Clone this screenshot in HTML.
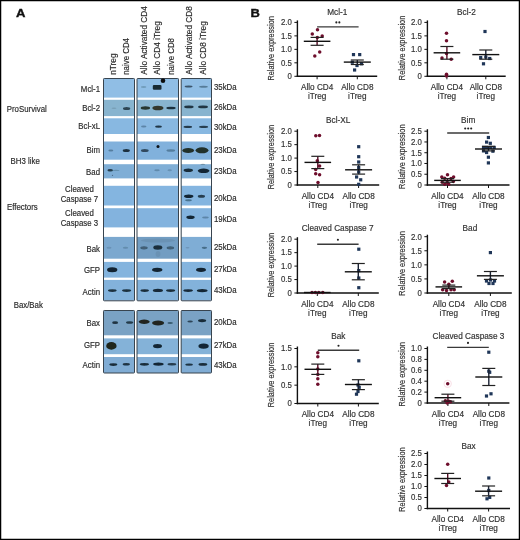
<!DOCTYPE html><html><head><meta charset="utf-8"><style>html,body{margin:0;padding:0;background:#fff;}body{width:520px;height:540px;overflow:hidden;position:relative;}svg{display:block;font-family:"Liberation Sans", sans-serif;will-change:transform;}</style></head><body>
<svg width="520" height="540" viewBox="0 0 520 540">
<rect x="0" y="0" width="520" height="540" fill="#fff"/>
<text transform="translate(15.9,16.8) scale(1.13,1)" font-size="11.6" text-anchor="start" fill="#111" font-weight="bold" stroke="#111" stroke-width="0.35">A</text>
<text transform="translate(250.6,16.6) scale(1.1,1)" font-size="11.8" text-anchor="start" fill="#111" font-weight="bold" stroke="#111" stroke-width="0.35">B</text>
<text transform="translate(115.7,74.8) rotate(-90) scale(1,1)" font-size="8.3" text-anchor="start" fill="#2c2c2c" stroke="#2c2c2c" stroke-width="0.18">nTreg</text>
<text transform="translate(129,74.8) rotate(-90) scale(0.95,1)" font-size="8.3" text-anchor="start" fill="#2c2c2c" stroke="#2c2c2c" stroke-width="0.18">naive CD4</text>
<text transform="translate(146.6,74.8) rotate(-90) scale(1,1)" font-size="8.3" text-anchor="start" fill="#2c2c2c" stroke="#2c2c2c" stroke-width="0.18">Allo Activated CD4</text>
<text transform="translate(160.4,74.8) rotate(-90) scale(1,1)" font-size="8.3" text-anchor="start" fill="#2c2c2c" stroke="#2c2c2c" stroke-width="0.18">Allo CD4 iTreg</text>
<text transform="translate(173.6,74.8) rotate(-90) scale(0.95,1)" font-size="8.3" text-anchor="start" fill="#2c2c2c" stroke="#2c2c2c" stroke-width="0.18">naive CD8</text>
<text transform="translate(192,74.8) rotate(-90) scale(1,1)" font-size="8.3" text-anchor="start" fill="#2c2c2c" stroke="#2c2c2c" stroke-width="0.18">Allo Activated CD8</text>
<text transform="translate(205.9,74.8) rotate(-90) scale(1,1)" font-size="8.3" text-anchor="start" fill="#2c2c2c" stroke="#2c2c2c" stroke-width="0.18">Allo CD8 iTreg</text>
<rect x="103.5" y="78.5" width="31.0" height="19.099999999999994" fill="#90bee5"/>
<rect x="103.5" y="99.8" width="31.0" height="16.299999999999997" fill="#88b4cf"/>
<rect x="103.5" y="118.3" width="31.0" height="15.700000000000003" fill="#88b8e1"/>
<rect x="103.5" y="141.5" width="31.0" height="18.19999999999999" fill="#81b1dc"/>
<rect x="103.5" y="164.2" width="31.0" height="14.200000000000017" fill="#7faed6"/>
<rect x="103.5" y="185.8" width="31.0" height="19.69999999999999" fill="#84b5e0"/>
<rect x="103.5" y="208.2" width="31.0" height="19.200000000000017" fill="#83b3de"/>
<rect x="103.5" y="236.9" width="31.0" height="21.799999999999983" fill="#7ba8cf"/>
<rect x="103.5" y="261.9" width="31.0" height="15.700000000000045" fill="#84b4de"/>
<rect x="103.5" y="279.9" width="31.0" height="20.600000000000023" fill="#83b2db"/>
<rect x="103.5" y="78.5" width="31.0" height="222.3" rx="0.8" fill="none" stroke="#38444f" stroke-width="1.0"/>
<rect x="137" y="78.5" width="41.5" height="19.099999999999994" fill="#90bee5"/>
<rect x="137" y="99.8" width="41.5" height="16.299999999999997" fill="#88b4cf"/>
<rect x="137" y="118.3" width="41.5" height="15.700000000000003" fill="#88b8e1"/>
<rect x="137" y="141.5" width="41.5" height="18.19999999999999" fill="#81b1dc"/>
<rect x="137" y="164.2" width="41.5" height="14.200000000000017" fill="#7faed6"/>
<rect x="137" y="185.8" width="41.5" height="19.69999999999999" fill="#84b5e0"/>
<rect x="137" y="208.2" width="41.5" height="19.200000000000017" fill="#83b3de"/>
<rect x="137" y="236.9" width="41.5" height="21.799999999999983" fill="#729dc2"/>
<rect x="137" y="261.9" width="41.5" height="15.700000000000045" fill="#84b4de"/>
<rect x="137" y="279.9" width="41.5" height="20.600000000000023" fill="#83b2db"/>
<rect x="137" y="78.5" width="41.5" height="222.3" rx="0.8" fill="none" stroke="#38444f" stroke-width="1.0"/>
<rect x="181.2" y="78.5" width="30.30000000000001" height="19.099999999999994" fill="#90bee5"/>
<rect x="181.2" y="99.8" width="30.30000000000001" height="16.299999999999997" fill="#88b4cf"/>
<rect x="181.2" y="118.3" width="30.30000000000001" height="15.700000000000003" fill="#88b8e1"/>
<rect x="181.2" y="141.5" width="30.30000000000001" height="18.19999999999999" fill="#81b1dc"/>
<rect x="181.2" y="164.2" width="30.30000000000001" height="14.200000000000017" fill="#7faed6"/>
<rect x="181.2" y="185.8" width="30.30000000000001" height="19.69999999999999" fill="#84b5e0"/>
<rect x="181.2" y="208.2" width="30.30000000000001" height="19.200000000000017" fill="#83b3de"/>
<rect x="181.2" y="236.9" width="30.30000000000001" height="21.799999999999983" fill="#7fadd5"/>
<rect x="181.2" y="261.9" width="30.30000000000001" height="15.700000000000045" fill="#84b4de"/>
<rect x="181.2" y="279.9" width="30.30000000000001" height="20.600000000000023" fill="#83b2db"/>
<rect x="181.2" y="78.5" width="30.30000000000001" height="222.3" rx="0.8" fill="none" stroke="#38444f" stroke-width="1.0"/>
<rect x="103.5" y="310.5" width="31.0" height="24.80000000000001" fill="#7aa2c4"/>
<rect x="103.5" y="338.4" width="31.0" height="15.800000000000011" fill="#84b2d8"/>
<rect x="103.5" y="357" width="31.0" height="16" fill="#80acd4"/>
<rect x="103.5" y="310.5" width="31.0" height="62.5" rx="0.8" fill="none" stroke="#38444f" stroke-width="1.0"/>
<rect x="137" y="310.5" width="41.5" height="24.80000000000001" fill="#7aa2c4"/>
<rect x="137" y="338.4" width="41.5" height="15.800000000000011" fill="#84b2d8"/>
<rect x="137" y="357" width="41.5" height="16" fill="#80acd4"/>
<rect x="137" y="310.5" width="41.5" height="62.5" rx="0.8" fill="none" stroke="#38444f" stroke-width="1.0"/>
<rect x="181.2" y="310.5" width="30.30000000000001" height="24.80000000000001" fill="#7aa2c4"/>
<rect x="181.2" y="338.4" width="30.30000000000001" height="15.800000000000011" fill="#84b2d8"/>
<rect x="181.2" y="357" width="30.30000000000001" height="16" fill="#80acd4"/>
<rect x="181.2" y="310.5" width="30.30000000000001" height="62.5" rx="0.8" fill="none" stroke="#38444f" stroke-width="1.0"/>
<defs><filter id="bl" x="-20%" y="-50%" width="140%" height="200%"><feGaussianBlur stdDeviation="0.65"/></filter></defs>
<g filter="url(#bl)">
<ellipse cx="143.7" cy="87.1" rx="2.75" ry="1.0" fill="#0d1f2a" fill-opacity="0.22"/>
<rect x="152.8" y="84.9" width="8.7" height="4.8" rx="1.2" fill="#101c24" fill-opacity="0.92"/>
<circle cx="163" cy="80.7" r="2.3" fill="#0c0f10"/>
<ellipse cx="188.6" cy="86.6" rx="3.9" ry="1.0" fill="#0d1f2a" fill-opacity="0.65"/>
<ellipse cx="203.5" cy="86.7" rx="4.35" ry="1.0" fill="#0d1f2a" fill-opacity="0.4"/>
<ellipse cx="114" cy="108.2" rx="2.5" ry="0.8" fill="#0d1f2a" fill-opacity="0.12"/>
<ellipse cx="126.6" cy="108.6" rx="3.6" ry="1.5" fill="#0d1f2a" fill-opacity="0.75"/>
<ellipse cx="145.4" cy="108" rx="4.7" ry="1.7" fill="#1f2a22" fill-opacity="0.92"/>
<ellipse cx="157.9" cy="108" rx="5.55" ry="2.3" fill="#2a2c1c" fill-opacity="0.92"/>
<ellipse cx="171" cy="108" rx="4.75" ry="1.3" fill="#0d1f2a" fill-opacity="0.88"/>
<ellipse cx="188.9" cy="106.9" rx="4.75" ry="1.35" fill="#0d1f2a" fill-opacity="0.85"/>
<ellipse cx="203" cy="106.9" rx="5.0" ry="1.35" fill="#0d1f2a" fill-opacity="0.85"/>
<ellipse cx="143.7" cy="126.6" rx="2.75" ry="1.0" fill="#0d1f2a" fill-opacity="0.32"/>
<ellipse cx="158.5" cy="126.6" rx="3.4" ry="1.2" fill="#0d1f2a" fill-opacity="0.85"/>
<ellipse cx="187.8" cy="126.9" rx="4.25" ry="1.1" fill="#0d1f2a" fill-opacity="0.82"/>
<ellipse cx="203.6" cy="126.9" rx="4.5" ry="1.1" fill="#0d1f2a" fill-opacity="0.8"/>
<ellipse cx="110.8" cy="150.4" rx="2.5" ry="1.0" fill="#0d1f2a" fill-opacity="0.35"/>
<ellipse cx="126.3" cy="150.4" rx="3.55" ry="1.5" fill="#0d1f2a" fill-opacity="0.88"/>
<ellipse cx="144.8" cy="150.4" rx="3.85" ry="1.5" fill="#0d1f2a" fill-opacity="0.7"/>
<circle cx="158" cy="146.6" r="1.5" fill="#0b1418"/>
<ellipse cx="170.8" cy="150.5" rx="4.4" ry="1.25" fill="#0d1f2a" fill-opacity="0.35"/>
<ellipse cx="188.2" cy="150.4" rx="5.85" ry="2.5" fill="#1f2a22" fill-opacity="0.96"/>
<ellipse cx="202" cy="150.3" rx="6.4" ry="3.0" fill="#1f2a22" fill-opacity="0.96"/>
<ellipse cx="110.2" cy="170.2" rx="2.75" ry="1.3" fill="#0d1f2a" fill-opacity="0.8"/>
<ellipse cx="116" cy="170.4" rx="3.5" ry="0.6" fill="#0d1f2a" fill-opacity="0.2"/>
<circle cx="112.5" cy="175.4" r="0.6" fill="#203040" fill-opacity="0.5"/>
<ellipse cx="157" cy="170.3" rx="2.75" ry="1.0" fill="#0d1f2a" fill-opacity="0.25"/>
<ellipse cx="169.7" cy="170.3" rx="2.2" ry="1.0" fill="#0d1f2a" fill-opacity="0.2"/>
<ellipse cx="188.3" cy="170.3" rx="4.7" ry="1.75" fill="#0d1f2a" fill-opacity="0.9"/>
<ellipse cx="203.6" cy="170.8" rx="5.85" ry="2.25" fill="#0d1f2a" fill-opacity="0.95"/>
<ellipse cx="202.9" cy="164.3" rx="2.5" ry="0.6" fill="#0d1f2a" fill-opacity="0.3"/>
<ellipse cx="188.7" cy="196.3" rx="4.7" ry="1.75" fill="#0d1f2a" fill-opacity="0.95"/>
<ellipse cx="188.5" cy="200.3" rx="3.3" ry="1.0" fill="#0d1f2a" fill-opacity="0.45"/>
<ellipse cx="201.4" cy="196.3" rx="3.6" ry="1.5" fill="#0d1f2a" fill-opacity="0.8"/>
<ellipse cx="190.5" cy="217.3" rx="4.2" ry="1.75" fill="#0d1f2a" fill-opacity="0.95"/>
<ellipse cx="205.5" cy="217.5" rx="3.3" ry="0.9" fill="#0d1f2a" fill-opacity="0.3"/>
<ellipse cx="109" cy="247.8" rx="2.5" ry="1.0" fill="#0d1f2a" fill-opacity="0.15"/>
<ellipse cx="125.5" cy="247.8" rx="2.75" ry="1.0" fill="#0d1f2a" fill-opacity="0.2"/>
<ellipse cx="144" cy="247.8" rx="3.75" ry="1.6" fill="#0d1f2a" fill-opacity="0.5"/>
<ellipse cx="157.8" cy="247.5" rx="4.5" ry="2.2" fill="#0d1f2a" fill-opacity="0.88"/>
<ellipse cx="158" cy="254" rx="2.5" ry="3.0" fill="#0d1f2a" fill-opacity="0.07"/>
<ellipse cx="158" cy="240.5" rx="17.0" ry="2.0" fill="#0d1f2a" fill-opacity="0.07"/>
<ellipse cx="170.4" cy="247.8" rx="3.75" ry="1.6" fill="#0d1f2a" fill-opacity="0.5"/>
<ellipse cx="187.5" cy="247.8" rx="2.0" ry="0.8" fill="#0d1f2a" fill-opacity="0.15"/>
<ellipse cx="204.4" cy="247.8" rx="2.7" ry="1.1" fill="#0d1f2a" fill-opacity="0.45"/>
<ellipse cx="112.2" cy="269.8" rx="5.2" ry="2.5" fill="#0d1f2a" fill-opacity="0.96"/>
<ellipse cx="157.2" cy="269.8" rx="5.2" ry="2.1" fill="#0d1f2a" fill-opacity="0.96"/>
<ellipse cx="201" cy="269.8" rx="5.0" ry="2.1" fill="#0d1f2a" fill-opacity="0.96"/>
<ellipse cx="112.3" cy="290.6" rx="4.35" ry="1.3" fill="#0d1f2a" fill-opacity="0.88"/>
<ellipse cx="126.6" cy="290.6" rx="4.6" ry="1.4" fill="#0d1f2a" fill-opacity="0.88"/>
<ellipse cx="144.7" cy="290.6" rx="4.25" ry="1.4" fill="#0d1f2a" fill-opacity="0.9"/>
<ellipse cx="157.9" cy="290.4" rx="5.1" ry="1.6" fill="#0d1f2a" fill-opacity="0.92"/>
<ellipse cx="170.6" cy="290.6" rx="4.6" ry="1.4" fill="#0d1f2a" fill-opacity="0.9"/>
<ellipse cx="188.1" cy="290.6" rx="4.85" ry="1.4" fill="#0d1f2a" fill-opacity="0.92"/>
<ellipse cx="202.2" cy="290.6" rx="5.4" ry="1.6" fill="#0d1f2a" fill-opacity="0.95"/>
<ellipse cx="115.1" cy="322.7" rx="3.0" ry="1.4" fill="#0d1f2a" fill-opacity="0.85"/>
<ellipse cx="129.6" cy="322.5" rx="3.6" ry="1.3" fill="#0d1f2a" fill-opacity="0.8"/>
<ellipse cx="144.2" cy="321.8" rx="5.5" ry="2.2" fill="#1a2018" fill-opacity="0.95"/>
<ellipse cx="158.1" cy="323.1" rx="6.0" ry="2.5" fill="#1a2018" fill-opacity="0.95"/>
<ellipse cx="170.2" cy="323" rx="2.75" ry="1.0" fill="#0d1f2a" fill-opacity="0.55"/>
<ellipse cx="190.1" cy="321.5" rx="2.75" ry="1.0" fill="#0d1f2a" fill-opacity="0.7"/>
<ellipse cx="202.1" cy="320.6" rx="4.1" ry="1.7" fill="#0d1f2a" fill-opacity="0.9"/>
<ellipse cx="111.4" cy="345.9" rx="5.2" ry="3.8" fill="#1a2018" fill-opacity="0.97"/>
<ellipse cx="157.5" cy="346.1" rx="4.5" ry="2.2" fill="#0d1f2a" fill-opacity="0.95"/>
<ellipse cx="203.6" cy="346.1" rx="5.15" ry="2.7" fill="#0d1f2a" fill-opacity="0.95"/>
<ellipse cx="113.3" cy="364.6" rx="4.0" ry="1.4" fill="#0d1f2a" fill-opacity="0.9"/>
<ellipse cx="126.3" cy="364.2" rx="3.65" ry="1.3" fill="#0d1f2a" fill-opacity="0.85"/>
<ellipse cx="144.4" cy="364.3" rx="4.65" ry="1.4" fill="#0d1f2a" fill-opacity="0.9"/>
<ellipse cx="158.4" cy="364.1" rx="5.3" ry="1.7" fill="#0d1f2a" fill-opacity="0.95"/>
<ellipse cx="171.9" cy="364.3" rx="4.4" ry="1.2" fill="#0d1f2a" fill-opacity="0.8"/>
<ellipse cx="189.1" cy="364.6" rx="3.85" ry="1.2" fill="#0d1f2a" fill-opacity="0.85"/>
<ellipse cx="202.9" cy="364.4" rx="4.4" ry="1.4" fill="#0d1f2a" fill-opacity="0.9"/>
</g>
<text transform="translate(100,91.5) scale(0.91,1)" font-size="8.6" text-anchor="end" fill="#2c2c2c" font-weight="normal" stroke="#2c2c2c" stroke-width="0.18" >Mcl-1</text>
<text transform="translate(100,111.2) scale(0.91,1)" font-size="8.6" text-anchor="end" fill="#2c2c2c" font-weight="normal" stroke="#2c2c2c" stroke-width="0.18" >Bcl-2</text>
<text transform="translate(100,129.2) scale(0.91,1)" font-size="8.6" text-anchor="end" fill="#2c2c2c" font-weight="normal" stroke="#2c2c2c" stroke-width="0.18" >Bcl-xL</text>
<text transform="translate(100,153.2) scale(0.91,1)" font-size="8.6" text-anchor="end" fill="#2c2c2c" font-weight="normal" stroke="#2c2c2c" stroke-width="0.18" >Bim</text>
<text transform="translate(100,175.2) scale(0.91,1)" font-size="8.6" text-anchor="end" fill="#2c2c2c" font-weight="normal" stroke="#2c2c2c" stroke-width="0.18" >Bad</text>
<text transform="translate(100,251.5) scale(0.91,1)" font-size="8.6" text-anchor="end" fill="#2c2c2c" font-weight="normal" stroke="#2c2c2c" stroke-width="0.18" >Bak</text>
<text transform="translate(100,273) scale(0.91,1)" font-size="8.6" text-anchor="end" fill="#2c2c2c" font-weight="normal" stroke="#2c2c2c" stroke-width="0.18" >GFP</text>
<text transform="translate(100,294.8) scale(0.91,1)" font-size="8.6" text-anchor="end" fill="#2c2c2c" font-weight="normal" stroke="#2c2c2c" stroke-width="0.18" >Actin</text>
<text transform="translate(100,325.9) scale(0.91,1)" font-size="8.6" text-anchor="end" fill="#2c2c2c" font-weight="normal" stroke="#2c2c2c" stroke-width="0.18" >Bax</text>
<text transform="translate(100,347.7) scale(0.91,1)" font-size="8.6" text-anchor="end" fill="#2c2c2c" font-weight="normal" stroke="#2c2c2c" stroke-width="0.18" >GFP</text>
<text transform="translate(100,368.4) scale(0.91,1)" font-size="8.6" text-anchor="end" fill="#2c2c2c" font-weight="normal" stroke="#2c2c2c" stroke-width="0.18" >Actin</text>
<text transform="translate(79.4,192.3) scale(0.91,1)" font-size="8.6" text-anchor="middle" fill="#2c2c2c" font-weight="normal" stroke="#2c2c2c" stroke-width="0.18" >Cleaved</text>
<text transform="translate(79.4,201.8) scale(0.91,1)" font-size="8.6" text-anchor="middle" fill="#2c2c2c" font-weight="normal" stroke="#2c2c2c" stroke-width="0.18" >Caspase 7</text>
<text transform="translate(79.4,216) scale(0.91,1)" font-size="8.6" text-anchor="middle" fill="#2c2c2c" font-weight="normal" stroke="#2c2c2c" stroke-width="0.18" >Cleaved</text>
<text transform="translate(79.4,225.6) scale(0.91,1)" font-size="8.6" text-anchor="middle" fill="#2c2c2c" font-weight="normal" stroke="#2c2c2c" stroke-width="0.18" >Caspase 3</text>
<text transform="translate(6.8,112.2) scale(0.91,1)" font-size="8.6" text-anchor="start" fill="#2c2c2c" font-weight="normal" stroke="#2c2c2c" stroke-width="0.18" >ProSurvival</text>
<text transform="translate(10.6,163.6) scale(0.91,1)" font-size="8.6" text-anchor="start" fill="#2c2c2c" font-weight="normal" stroke="#2c2c2c" stroke-width="0.18" >BH3 like</text>
<text transform="translate(7,210) scale(0.91,1)" font-size="8.6" text-anchor="start" fill="#2c2c2c" font-weight="normal" stroke="#2c2c2c" stroke-width="0.18" >Effectors</text>
<text transform="translate(13.7,307.5) scale(0.91,1)" font-size="8.6" text-anchor="start" fill="#2c2c2c" font-weight="normal" stroke="#2c2c2c" stroke-width="0.18" >Bax/Bak</text>
<text transform="translate(214,90.1) scale(0.91,1)" font-size="8.6" text-anchor="start" fill="#2c2c2c" font-weight="normal" stroke="#2c2c2c" stroke-width="0.18" >35kDa</text>
<text transform="translate(214,110.2) scale(0.91,1)" font-size="8.6" text-anchor="start" fill="#2c2c2c" font-weight="normal" stroke="#2c2c2c" stroke-width="0.18" >26kDa</text>
<text transform="translate(214,129.7) scale(0.91,1)" font-size="8.6" text-anchor="start" fill="#2c2c2c" font-weight="normal" stroke="#2c2c2c" stroke-width="0.18" >30kDa</text>
<text transform="translate(214,153.4) scale(0.91,1)" font-size="8.6" text-anchor="start" fill="#2c2c2c" font-weight="normal" stroke="#2c2c2c" stroke-width="0.18" >23kDa</text>
<text transform="translate(214,173.6) scale(0.91,1)" font-size="8.6" text-anchor="start" fill="#2c2c2c" font-weight="normal" stroke="#2c2c2c" stroke-width="0.18" >23kDa</text>
<text transform="translate(214,200.7) scale(0.91,1)" font-size="8.6" text-anchor="start" fill="#2c2c2c" font-weight="normal" stroke="#2c2c2c" stroke-width="0.18" >20kDa</text>
<text transform="translate(214,222.0) scale(0.91,1)" font-size="8.6" text-anchor="start" fill="#2c2c2c" font-weight="normal" stroke="#2c2c2c" stroke-width="0.18" >19kDa</text>
<text transform="translate(214,250.4) scale(0.91,1)" font-size="8.6" text-anchor="start" fill="#2c2c2c" font-weight="normal" stroke="#2c2c2c" stroke-width="0.18" >25kDa</text>
<text transform="translate(214,272.2) scale(0.91,1)" font-size="8.6" text-anchor="start" fill="#2c2c2c" font-weight="normal" stroke="#2c2c2c" stroke-width="0.18" >27kDa</text>
<text transform="translate(214,293.4) scale(0.91,1)" font-size="8.6" text-anchor="start" fill="#2c2c2c" font-weight="normal" stroke="#2c2c2c" stroke-width="0.18" >43kDa</text>
<text transform="translate(214,325.1) scale(0.91,1)" font-size="8.6" text-anchor="start" fill="#2c2c2c" font-weight="normal" stroke="#2c2c2c" stroke-width="0.18" >20kDa</text>
<text transform="translate(214,348.1) scale(0.91,1)" font-size="8.6" text-anchor="start" fill="#2c2c2c" font-weight="normal" stroke="#2c2c2c" stroke-width="0.18" >27kDa</text>
<text transform="translate(214,368.0) scale(0.91,1)" font-size="8.6" text-anchor="start" fill="#2c2c2c" font-weight="normal" stroke="#2c2c2c" stroke-width="0.18" >43kDa</text>
<text transform="translate(337.3,14.6) scale(0.96,1)" font-size="8.6" text-anchor="middle" fill="#333333" font-weight="normal" stroke="#333333" stroke-width="0.18" >Mcl-1</text>
<text transform="translate(274.4,48.349999999999994) rotate(-90) scale(0.86,1)" font-size="8.6" text-anchor="middle" fill="#333333" stroke="#333333" stroke-width="0.18">Relative expression</text>
<line x1="297.4" y1="20.4" x2="297.4" y2="77.0" stroke="#111" stroke-width="1.4"/>
<line x1="296.7" y1="76.3" x2="377.2" y2="76.3" stroke="#111" stroke-width="1.4"/>
<line x1="294.4" y1="76.3" x2="297.4" y2="76.3" stroke="#111" stroke-width="1"/>
<text transform="translate(291.9,79.1) scale(0.91,1)" font-size="8.6" text-anchor="end" fill="#333333" font-weight="normal" stroke="#333333" stroke-width="0.18" >0</text>
<line x1="294.4" y1="62.824999999999996" x2="297.4" y2="62.824999999999996" stroke="#111" stroke-width="1"/>
<text transform="translate(291.9,65.625) scale(0.91,1)" font-size="8.6" text-anchor="end" fill="#333333" font-weight="normal" stroke="#333333" stroke-width="0.18" >0.5</text>
<line x1="294.4" y1="49.349999999999994" x2="297.4" y2="49.349999999999994" stroke="#111" stroke-width="1"/>
<text transform="translate(291.9,52.14999999999999) scale(0.91,1)" font-size="8.6" text-anchor="end" fill="#333333" font-weight="normal" stroke="#333333" stroke-width="0.18" >1.0</text>
<line x1="294.4" y1="35.875" x2="297.4" y2="35.875" stroke="#111" stroke-width="1"/>
<text transform="translate(291.9,38.675) scale(0.91,1)" font-size="8.6" text-anchor="end" fill="#333333" font-weight="normal" stroke="#333333" stroke-width="0.18" >1.5</text>
<line x1="294.4" y1="22.4" x2="297.4" y2="22.4" stroke="#111" stroke-width="1"/>
<text transform="translate(291.9,25.2) scale(0.91,1)" font-size="8.6" text-anchor="end" fill="#333333" font-weight="normal" stroke="#333333" stroke-width="0.18" >2.0</text>
<line x1="317.1" y1="76.3" x2="317.1" y2="79.3" stroke="#111" stroke-width="1"/>
<line x1="357.3" y1="76.3" x2="357.3" y2="79.3" stroke="#111" stroke-width="1"/>
<text transform="translate(317.1,90.1) scale(0.955,1)" font-size="8.6" text-anchor="middle" fill="#333333" font-weight="normal" stroke="#333333" stroke-width="0.18" >Allo CD4</text>
<text transform="translate(317.1,99.1) scale(0.955,1)" font-size="8.6" text-anchor="middle" fill="#333333" font-weight="normal" stroke="#333333" stroke-width="0.18" >iTreg</text>
<text transform="translate(357.3,90.1) scale(0.955,1)" font-size="8.6" text-anchor="middle" fill="#333333" font-weight="normal" stroke="#333333" stroke-width="0.18" >Allo CD8</text>
<text transform="translate(357.3,99.1) scale(0.955,1)" font-size="8.6" text-anchor="middle" fill="#333333" font-weight="normal" stroke="#333333" stroke-width="0.18" >iTreg</text>
<circle cx="317.5" cy="29.8" r="1.75" fill="#6e0e2c"/>
<circle cx="312.3" cy="34" r="1.75" fill="#6e0e2c"/>
<circle cx="322.2" cy="35.9" r="1.75" fill="#6e0e2c"/>
<circle cx="317.3" cy="37.6" r="1.75" fill="#6e0e2c"/>
<circle cx="319.7" cy="51.9" r="1.75" fill="#6e0e2c"/>
<circle cx="314.8" cy="56" r="1.75" fill="#6e0e2c"/>
<rect x="351.9" y="53.0" width="3.2" height="3.2" fill="#1f3658"/>
<rect x="358.09999999999997" y="53.0" width="3.2" height="3.2" fill="#1f3658"/>
<rect x="350.7" y="60.6" width="3.2" height="3.2" fill="#1f3658"/>
<rect x="359.9" y="62.199999999999996" width="3.2" height="3.2" fill="#1f3658"/>
<rect x="355.4" y="63.9" width="3.2" height="3.2" fill="#1f3658"/>
<rect x="353.0" y="68.4" width="3.2" height="3.2" fill="#1f3658"/>
<line x1="317.1" y1="37.4" x2="317.1" y2="45.3" stroke="#560b24" stroke-width="1.4"/>
<line x1="310.6" y1="37.4" x2="323.6" y2="37.4" stroke="#222" stroke-width="1.2"/>
<line x1="310.6" y1="45.3" x2="323.6" y2="45.3" stroke="#222" stroke-width="1.2"/>
<line x1="303.8" y1="41.3" x2="330.40000000000003" y2="41.3" stroke="#111" stroke-width="1.4"/>
<line x1="357.3" y1="60" x2="357.3" y2="64.5" stroke="#1c2436" stroke-width="1.4"/>
<line x1="350.8" y1="60" x2="363.8" y2="60" stroke="#222" stroke-width="1.2"/>
<line x1="350.8" y1="64.5" x2="363.8" y2="64.5" stroke="#222" stroke-width="1.2"/>
<line x1="343.8" y1="62.1" x2="370.8" y2="62.1" stroke="#111" stroke-width="1.4"/>
<line x1="317.1" y1="26.9" x2="358.6" y2="26.9" stroke="#3a3a3a" stroke-width="1.4"/>
<circle cx="336.35" cy="22.4" r="1.05" fill="#222"/>
<circle cx="339.35" cy="22.4" r="1.05" fill="#222"/>
<text transform="translate(466.5,14.6) scale(0.96,1)" font-size="8.6" text-anchor="middle" fill="#333333" font-weight="normal" stroke="#333333" stroke-width="0.18" >Bcl-2</text>
<text transform="translate(405.09999999999997,47.949999999999996) rotate(-90) scale(0.86,1)" font-size="8.6" text-anchor="middle" fill="#333333" stroke="#333333" stroke-width="0.18">Relative expression</text>
<line x1="427.4" y1="20.4" x2="427.4" y2="77.0" stroke="#111" stroke-width="1.4"/>
<line x1="426.7" y1="76.3" x2="505.7" y2="76.3" stroke="#111" stroke-width="1.4"/>
<line x1="424.4" y1="76.3" x2="427.4" y2="76.3" stroke="#111" stroke-width="1"/>
<text transform="translate(421.9,79.1) scale(0.91,1)" font-size="8.6" text-anchor="end" fill="#333333" font-weight="normal" stroke="#333333" stroke-width="0.18" >0</text>
<line x1="424.4" y1="62.824999999999996" x2="427.4" y2="62.824999999999996" stroke="#111" stroke-width="1"/>
<text transform="translate(421.9,65.625) scale(0.91,1)" font-size="8.6" text-anchor="end" fill="#333333" font-weight="normal" stroke="#333333" stroke-width="0.18" >0.5</text>
<line x1="424.4" y1="49.349999999999994" x2="427.4" y2="49.349999999999994" stroke="#111" stroke-width="1"/>
<text transform="translate(421.9,52.14999999999999) scale(0.91,1)" font-size="8.6" text-anchor="end" fill="#333333" font-weight="normal" stroke="#333333" stroke-width="0.18" >1.0</text>
<line x1="424.4" y1="35.875" x2="427.4" y2="35.875" stroke="#111" stroke-width="1"/>
<text transform="translate(421.9,38.675) scale(0.91,1)" font-size="8.6" text-anchor="end" fill="#333333" font-weight="normal" stroke="#333333" stroke-width="0.18" >1.5</text>
<line x1="424.4" y1="22.4" x2="427.4" y2="22.4" stroke="#111" stroke-width="1"/>
<text transform="translate(421.9,25.2) scale(0.91,1)" font-size="8.6" text-anchor="end" fill="#333333" font-weight="normal" stroke="#333333" stroke-width="0.18" >2.0</text>
<line x1="446.9" y1="76.3" x2="446.9" y2="79.3" stroke="#111" stroke-width="1"/>
<line x1="485.8" y1="76.3" x2="485.8" y2="79.3" stroke="#111" stroke-width="1"/>
<text transform="translate(446.9,90.1) scale(0.955,1)" font-size="8.6" text-anchor="middle" fill="#333333" font-weight="normal" stroke="#333333" stroke-width="0.18" >Allo CD4</text>
<text transform="translate(446.9,99.1) scale(0.955,1)" font-size="8.6" text-anchor="middle" fill="#333333" font-weight="normal" stroke="#333333" stroke-width="0.18" >iTreg</text>
<text transform="translate(485.8,90.1) scale(0.955,1)" font-size="8.6" text-anchor="middle" fill="#333333" font-weight="normal" stroke="#333333" stroke-width="0.18" >Allo CD8</text>
<text transform="translate(485.8,99.1) scale(0.955,1)" font-size="8.6" text-anchor="middle" fill="#333333" font-weight="normal" stroke="#333333" stroke-width="0.18" >iTreg</text>
<circle cx="446.5" cy="33.2" r="1.75" fill="#6e0e2c"/>
<circle cx="446.5" cy="40.8" r="1.75" fill="#6e0e2c"/>
<circle cx="446.5" cy="53.5" r="1.75" fill="#6e0e2c"/>
<circle cx="442" cy="58" r="1.75" fill="#6e0e2c"/>
<circle cx="451.2" cy="59.2" r="1.75" fill="#6e0e2c"/>
<circle cx="446.5" cy="74.2" r="1.75" fill="#6e0e2c"/>
<circle cx="446.5" cy="76" r="1.75" fill="#6e0e2c"/>
<rect x="483.4" y="29.9" width="3.2" height="3.2" fill="#1f3658"/>
<rect x="479.09999999999997" y="56.0" width="3.2" height="3.2" fill="#1f3658"/>
<rect x="484.2" y="55.4" width="3.2" height="3.2" fill="#1f3658"/>
<rect x="488.09999999999997" y="56.9" width="3.2" height="3.2" fill="#1f3658"/>
<rect x="481.9" y="62.199999999999996" width="3.2" height="3.2" fill="#1f3658"/>
<line x1="446.9" y1="46.5" x2="446.9" y2="59.2" stroke="#560b24" stroke-width="1.4"/>
<line x1="440.4" y1="46.5" x2="453.4" y2="46.5" stroke="#222" stroke-width="1.2"/>
<line x1="440.4" y1="59.2" x2="453.4" y2="59.2" stroke="#222" stroke-width="1.2"/>
<line x1="433.59999999999997" y1="52.8" x2="460.2" y2="52.8" stroke="#111" stroke-width="1.4"/>
<line x1="485.8" y1="50" x2="485.8" y2="59.2" stroke="#1c2436" stroke-width="1.4"/>
<line x1="479.3" y1="50" x2="492.3" y2="50" stroke="#222" stroke-width="1.2"/>
<line x1="479.3" y1="59.2" x2="492.3" y2="59.2" stroke="#222" stroke-width="1.2"/>
<line x1="472.3" y1="54.6" x2="499.3" y2="54.6" stroke="#111" stroke-width="1.4"/>
<text transform="translate(338.2,122.6) scale(0.96,1)" font-size="8.6" text-anchor="middle" fill="#333333" font-weight="normal" stroke="#333333" stroke-width="0.18" >Bcl-XL</text>
<text transform="translate(274.4,157.1) rotate(-90) scale(0.86,1)" font-size="8.6" text-anchor="middle" fill="#333333" stroke="#333333" stroke-width="0.18">Relative expression</text>
<line x1="297.4" y1="129.2" x2="297.4" y2="185.7" stroke="#111" stroke-width="1.4"/>
<line x1="296.7" y1="185" x2="379.2" y2="185" stroke="#111" stroke-width="1.4"/>
<line x1="294.4" y1="185.0" x2="297.4" y2="185.0" stroke="#111" stroke-width="1"/>
<text transform="translate(291.9,187.8) scale(0.91,1)" font-size="8.6" text-anchor="end" fill="#333333" font-weight="normal" stroke="#333333" stroke-width="0.18" >0</text>
<line x1="294.4" y1="171.55" x2="297.4" y2="171.55" stroke="#111" stroke-width="1"/>
<text transform="translate(291.9,174.35000000000002) scale(0.91,1)" font-size="8.6" text-anchor="end" fill="#333333" font-weight="normal" stroke="#333333" stroke-width="0.18" >0.5</text>
<line x1="294.4" y1="158.1" x2="297.4" y2="158.1" stroke="#111" stroke-width="1"/>
<text transform="translate(291.9,160.9) scale(0.91,1)" font-size="8.6" text-anchor="end" fill="#333333" font-weight="normal" stroke="#333333" stroke-width="0.18" >1.0</text>
<line x1="294.4" y1="144.64999999999998" x2="297.4" y2="144.64999999999998" stroke="#111" stroke-width="1"/>
<text transform="translate(291.9,147.45) scale(0.91,1)" font-size="8.6" text-anchor="end" fill="#333333" font-weight="normal" stroke="#333333" stroke-width="0.18" >1.5</text>
<line x1="294.4" y1="131.2" x2="297.4" y2="131.2" stroke="#111" stroke-width="1"/>
<text transform="translate(291.9,134.0) scale(0.91,1)" font-size="8.6" text-anchor="end" fill="#333333" font-weight="normal" stroke="#333333" stroke-width="0.18" >2.0</text>
<line x1="317.8" y1="185" x2="317.8" y2="188" stroke="#111" stroke-width="1"/>
<line x1="358.6" y1="185" x2="358.6" y2="188" stroke="#111" stroke-width="1"/>
<text transform="translate(317.8,198.8) scale(0.955,1)" font-size="8.6" text-anchor="middle" fill="#333333" font-weight="normal" stroke="#333333" stroke-width="0.18" >Allo CD4</text>
<text transform="translate(317.8,207.8) scale(0.955,1)" font-size="8.6" text-anchor="middle" fill="#333333" font-weight="normal" stroke="#333333" stroke-width="0.18" >iTreg</text>
<text transform="translate(358.6,198.8) scale(0.955,1)" font-size="8.6" text-anchor="middle" fill="#333333" font-weight="normal" stroke="#333333" stroke-width="0.18" >Allo CD8</text>
<text transform="translate(358.6,207.8) scale(0.955,1)" font-size="8.6" text-anchor="middle" fill="#333333" font-weight="normal" stroke="#333333" stroke-width="0.18" >iTreg</text>
<circle cx="315.8" cy="135.8" r="1.75" fill="#6e0e2c"/>
<circle cx="319.5" cy="135.4" r="1.75" fill="#6e0e2c"/>
<circle cx="317.3" cy="160.8" r="1.75" fill="#6e0e2c"/>
<circle cx="319.6" cy="166" r="1.75" fill="#6e0e2c"/>
<circle cx="315.7" cy="169.6" r="1.75" fill="#6e0e2c"/>
<circle cx="315.7" cy="173.8" r="1.75" fill="#6e0e2c"/>
<circle cx="319.6" cy="174.8" r="1.75" fill="#6e0e2c"/>
<circle cx="318" cy="182.5" r="1.75" fill="#6e0e2c"/>
<rect x="357.09999999999997" y="145.1" width="3.2" height="3.2" fill="#1f3658"/>
<rect x="357.09999999999997" y="155.1" width="3.2" height="3.2" fill="#1f3658"/>
<rect x="357.09999999999997" y="160.4" width="3.2" height="3.2" fill="#1f3658"/>
<rect x="357.09999999999997" y="165.9" width="3.2" height="3.2" fill="#1f3658"/>
<rect x="357.09999999999997" y="170.4" width="3.2" height="3.2" fill="#1f3658"/>
<rect x="355.0" y="175.4" width="3.2" height="3.2" fill="#1f3658"/>
<rect x="359.09999999999997" y="178.20000000000002" width="3.2" height="3.2" fill="#1f3658"/>
<rect x="357.09999999999997" y="182.70000000000002" width="3.2" height="3.2" fill="#1f3658"/>
<line x1="317.8" y1="156.3" x2="317.8" y2="168.6" stroke="#560b24" stroke-width="1.4"/>
<line x1="311.3" y1="156.3" x2="324.3" y2="156.3" stroke="#222" stroke-width="1.2"/>
<line x1="311.3" y1="168.6" x2="324.3" y2="168.6" stroke="#222" stroke-width="1.2"/>
<line x1="304.5" y1="162.4" x2="331.1" y2="162.4" stroke="#111" stroke-width="1.4"/>
<line x1="358.6" y1="164.8" x2="358.6" y2="174.1" stroke="#1c2436" stroke-width="1.4"/>
<line x1="352.1" y1="164.8" x2="365.1" y2="164.8" stroke="#222" stroke-width="1.2"/>
<line x1="352.1" y1="174.1" x2="365.1" y2="174.1" stroke="#222" stroke-width="1.2"/>
<line x1="345.1" y1="169.8" x2="372.1" y2="169.8" stroke="#111" stroke-width="1.4"/>
<text transform="translate(468.2,122.6) scale(0.96,1)" font-size="8.6" text-anchor="middle" fill="#333333" font-weight="normal" stroke="#333333" stroke-width="0.18" >Bim</text>
<text transform="translate(405.09999999999997,156.7) rotate(-90) scale(0.86,1)" font-size="8.6" text-anchor="middle" fill="#333333" stroke="#333333" stroke-width="0.18">Relative expression</text>
<line x1="427.4" y1="129.2" x2="427.4" y2="185.7" stroke="#111" stroke-width="1.4"/>
<line x1="426.7" y1="185" x2="509.5" y2="185" stroke="#111" stroke-width="1.4"/>
<line x1="424.4" y1="185.0" x2="427.4" y2="185.0" stroke="#111" stroke-width="1"/>
<text transform="translate(421.9,187.8) scale(0.91,1)" font-size="8.6" text-anchor="end" fill="#333333" font-weight="normal" stroke="#333333" stroke-width="0.18" >0</text>
<line x1="424.4" y1="174.24" x2="427.4" y2="174.24" stroke="#111" stroke-width="1"/>
<text transform="translate(421.9,177.04000000000002) scale(0.91,1)" font-size="8.6" text-anchor="end" fill="#333333" font-weight="normal" stroke="#333333" stroke-width="0.18" >0.5</text>
<line x1="424.4" y1="163.48" x2="427.4" y2="163.48" stroke="#111" stroke-width="1"/>
<text transform="translate(421.9,166.28) scale(0.91,1)" font-size="8.6" text-anchor="end" fill="#333333" font-weight="normal" stroke="#333333" stroke-width="0.18" >1.0</text>
<line x1="424.4" y1="152.72" x2="427.4" y2="152.72" stroke="#111" stroke-width="1"/>
<text transform="translate(421.9,155.52) scale(0.91,1)" font-size="8.6" text-anchor="end" fill="#333333" font-weight="normal" stroke="#333333" stroke-width="0.18" >1.5</text>
<line x1="424.4" y1="141.95999999999998" x2="427.4" y2="141.95999999999998" stroke="#111" stroke-width="1"/>
<text transform="translate(421.9,144.76) scale(0.91,1)" font-size="8.6" text-anchor="end" fill="#333333" font-weight="normal" stroke="#333333" stroke-width="0.18" >2.0</text>
<line x1="424.4" y1="131.2" x2="427.4" y2="131.2" stroke="#111" stroke-width="1"/>
<text transform="translate(421.9,134.0) scale(0.91,1)" font-size="8.6" text-anchor="end" fill="#333333" font-weight="normal" stroke="#333333" stroke-width="0.18" >2.5</text>
<line x1="447.5" y1="185" x2="447.5" y2="188" stroke="#111" stroke-width="1"/>
<line x1="488.5" y1="185" x2="488.5" y2="188" stroke="#111" stroke-width="1"/>
<text transform="translate(447.5,198.8) scale(0.955,1)" font-size="8.6" text-anchor="middle" fill="#333333" font-weight="normal" stroke="#333333" stroke-width="0.18" >Allo CD4</text>
<text transform="translate(447.5,207.8) scale(0.955,1)" font-size="8.6" text-anchor="middle" fill="#333333" font-weight="normal" stroke="#333333" stroke-width="0.18" >iTreg</text>
<text transform="translate(488.5,198.8) scale(0.955,1)" font-size="8.6" text-anchor="middle" fill="#333333" font-weight="normal" stroke="#333333" stroke-width="0.18" >Allo CD8</text>
<text transform="translate(488.5,207.8) scale(0.955,1)" font-size="8.6" text-anchor="middle" fill="#333333" font-weight="normal" stroke="#333333" stroke-width="0.18" >iTreg</text>
<circle cx="447.5" cy="174.7" r="1.75" fill="#6e0e2c"/>
<circle cx="441.8" cy="176.9" r="1.75" fill="#6e0e2c"/>
<circle cx="453.6" cy="176.9" r="1.75" fill="#6e0e2c"/>
<circle cx="444.7" cy="178.2" r="1.75" fill="#6e0e2c"/>
<circle cx="451.0" cy="178.5" r="1.75" fill="#6e0e2c"/>
<circle cx="442.2" cy="182.3" r="1.75" fill="#6e0e2c"/>
<circle cx="447.2" cy="182.6" r="1.75" fill="#6e0e2c"/>
<circle cx="453.3" cy="181.6" r="1.75" fill="#6e0e2c"/>
<circle cx="444.7" cy="184.2" r="1.75" fill="#6e0e2c"/>
<circle cx="448.8" cy="184.2" r="1.75" fill="#6e0e2c"/>
<rect x="486.79999999999995" y="135.9" width="3.2" height="3.2" fill="#1f3658"/>
<rect x="485.0" y="140.5" width="3.2" height="3.2" fill="#1f3658"/>
<rect x="488.7" y="141.70000000000002" width="3.2" height="3.2" fill="#1f3658"/>
<rect x="481.9" y="145.8" width="3.2" height="3.2" fill="#1f3658"/>
<rect x="485.0" y="145.8" width="3.2" height="3.2" fill="#1f3658"/>
<rect x="489.09999999999997" y="145.8" width="3.2" height="3.2" fill="#1f3658"/>
<rect x="492.59999999999997" y="145.8" width="3.2" height="3.2" fill="#1f3658"/>
<rect x="481.9" y="149.3" width="3.2" height="3.2" fill="#1f3658"/>
<rect x="485.0" y="150.9" width="3.2" height="3.2" fill="#1f3658"/>
<rect x="491.29999999999995" y="149.6" width="3.2" height="3.2" fill="#1f3658"/>
<rect x="486.79999999999995" y="155.6" width="3.2" height="3.2" fill="#1f3658"/>
<rect x="486.79999999999995" y="161.3" width="3.2" height="3.2" fill="#1f3658"/>
<line x1="447.5" y1="178.6" x2="447.5" y2="182.2" stroke="#560b24" stroke-width="1.4"/>
<line x1="441.0" y1="178.6" x2="454.0" y2="178.6" stroke="#222" stroke-width="1.2"/>
<line x1="441.0" y1="182.2" x2="454.0" y2="182.2" stroke="#222" stroke-width="1.2"/>
<line x1="434.2" y1="180.4" x2="460.8" y2="180.4" stroke="#111" stroke-width="1.4"/>
<line x1="488.5" y1="146.4" x2="488.5" y2="150.9" stroke="#1c2436" stroke-width="1.4"/>
<line x1="482.0" y1="146.4" x2="495.0" y2="146.4" stroke="#222" stroke-width="1.2"/>
<line x1="482.0" y1="150.9" x2="495.0" y2="150.9" stroke="#222" stroke-width="1.2"/>
<line x1="475.0" y1="149" x2="502.0" y2="149" stroke="#111" stroke-width="1.4"/>
<line x1="447.2" y1="133" x2="489.2" y2="133" stroke="#3a3a3a" stroke-width="1.4"/>
<circle cx="465.2" cy="128.5" r="1.05" fill="#222"/>
<circle cx="468.2" cy="128.5" r="1.05" fill="#222"/>
<circle cx="471.2" cy="128.5" r="1.05" fill="#222"/>
<text transform="translate(337.6,231.2) scale(0.96,1)" font-size="8.6" text-anchor="middle" fill="#333333" font-weight="normal" stroke="#333333" stroke-width="0.18" >Cleaved Caspase 7</text>
<text transform="translate(274.4,265.1) rotate(-90) scale(0.86,1)" font-size="8.6" text-anchor="middle" fill="#333333" stroke="#333333" stroke-width="0.18">Relative expression</text>
<line x1="297.4" y1="237.2" x2="297.4" y2="293.7" stroke="#111" stroke-width="1.4"/>
<line x1="296.7" y1="293" x2="378.8" y2="293" stroke="#111" stroke-width="1.4"/>
<line x1="294.4" y1="293.0" x2="297.4" y2="293.0" stroke="#111" stroke-width="1"/>
<text transform="translate(291.9,295.8) scale(0.91,1)" font-size="8.6" text-anchor="end" fill="#333333" font-weight="normal" stroke="#333333" stroke-width="0.18" >0</text>
<line x1="294.4" y1="279.55" x2="297.4" y2="279.55" stroke="#111" stroke-width="1"/>
<text transform="translate(291.9,282.35) scale(0.91,1)" font-size="8.6" text-anchor="end" fill="#333333" font-weight="normal" stroke="#333333" stroke-width="0.18" >0.5</text>
<line x1="294.4" y1="266.1" x2="297.4" y2="266.1" stroke="#111" stroke-width="1"/>
<text transform="translate(291.9,268.90000000000003) scale(0.91,1)" font-size="8.6" text-anchor="end" fill="#333333" font-weight="normal" stroke="#333333" stroke-width="0.18" >1.0</text>
<line x1="294.4" y1="252.64999999999998" x2="297.4" y2="252.64999999999998" stroke="#111" stroke-width="1"/>
<text transform="translate(291.9,255.45) scale(0.91,1)" font-size="8.6" text-anchor="end" fill="#333333" font-weight="normal" stroke="#333333" stroke-width="0.18" >1.5</text>
<line x1="294.4" y1="239.2" x2="297.4" y2="239.2" stroke="#111" stroke-width="1"/>
<text transform="translate(291.9,242.0) scale(0.91,1)" font-size="8.6" text-anchor="end" fill="#333333" font-weight="normal" stroke="#333333" stroke-width="0.18" >2.0</text>
<line x1="317.3" y1="293" x2="317.3" y2="296" stroke="#111" stroke-width="1"/>
<line x1="358.3" y1="293" x2="358.3" y2="296" stroke="#111" stroke-width="1"/>
<text transform="translate(317.3,306.8) scale(0.955,1)" font-size="8.6" text-anchor="middle" fill="#333333" font-weight="normal" stroke="#333333" stroke-width="0.18" >Allo CD4</text>
<text transform="translate(317.3,315.8) scale(0.955,1)" font-size="8.6" text-anchor="middle" fill="#333333" font-weight="normal" stroke="#333333" stroke-width="0.18" >iTreg</text>
<text transform="translate(358.3,306.8) scale(0.955,1)" font-size="8.6" text-anchor="middle" fill="#333333" font-weight="normal" stroke="#333333" stroke-width="0.18" >Allo CD8</text>
<text transform="translate(358.3,315.8) scale(0.955,1)" font-size="8.6" text-anchor="middle" fill="#333333" font-weight="normal" stroke="#333333" stroke-width="0.18" >iTreg</text>
<circle cx="312" cy="292.5" r="1.75" fill="#6e0e2c"/>
<circle cx="315.4" cy="292.5" r="1.75" fill="#6e0e2c"/>
<circle cx="318.8" cy="292.5" r="1.75" fill="#6e0e2c"/>
<circle cx="322.8" cy="292.5" r="1.75" fill="#6e0e2c"/>
<rect x="357.2" y="247.6" width="3.2" height="3.2" fill="#1f3658"/>
<rect x="357.2" y="269.0" width="3.2" height="3.2" fill="#1f3658"/>
<rect x="357.2" y="276.4" width="3.2" height="3.2" fill="#1f3658"/>
<rect x="357.2" y="286.09999999999997" width="3.2" height="3.2" fill="#1f3658"/>
<line x1="317.3" y1="292.5" x2="317.3" y2="292.5" stroke="#560b24" stroke-width="1.4"/>
<line x1="310.8" y1="292.5" x2="323.8" y2="292.5" stroke="#222" stroke-width="1.2"/>
<line x1="310.8" y1="292.5" x2="323.8" y2="292.5" stroke="#222" stroke-width="1.2"/>
<line x1="304.0" y1="292.5" x2="330.6" y2="292.5" stroke="#111" stroke-width="1.4"/>
<line x1="358.3" y1="263.5" x2="358.3" y2="279.8" stroke="#1c2436" stroke-width="1.4"/>
<line x1="351.8" y1="263.5" x2="364.8" y2="263.5" stroke="#222" stroke-width="1.2"/>
<line x1="351.8" y1="279.8" x2="364.8" y2="279.8" stroke="#222" stroke-width="1.2"/>
<line x1="344.8" y1="271.8" x2="371.8" y2="271.8" stroke="#111" stroke-width="1.4"/>
<line x1="317.2" y1="244.3" x2="358.6" y2="244.3" stroke="#3a3a3a" stroke-width="1.4"/>
<circle cx="337.9" cy="239.8" r="1.05" fill="#222"/>
<text transform="translate(469.9,231.2) scale(0.96,1)" font-size="8.6" text-anchor="middle" fill="#333333" font-weight="normal" stroke="#333333" stroke-width="0.18" >Bad</text>
<text transform="translate(405.09999999999997,263.45000000000005) rotate(-90) scale(0.86,1)" font-size="8.6" text-anchor="middle" fill="#333333" stroke="#333333" stroke-width="0.18">Relative expression</text>
<line x1="427.4" y1="234.7" x2="427.4" y2="293.7" stroke="#111" stroke-width="1.4"/>
<line x1="426.7" y1="293" x2="511.8" y2="293" stroke="#111" stroke-width="1.4"/>
<line x1="424.4" y1="293.0" x2="427.4" y2="293.0" stroke="#111" stroke-width="1"/>
<text transform="translate(421.9,295.8) scale(0.91,1)" font-size="8.6" text-anchor="end" fill="#333333" font-weight="normal" stroke="#333333" stroke-width="0.18" >0</text>
<line x1="424.4" y1="278.925" x2="427.4" y2="278.925" stroke="#111" stroke-width="1"/>
<text transform="translate(421.9,281.725) scale(0.91,1)" font-size="8.6" text-anchor="end" fill="#333333" font-weight="normal" stroke="#333333" stroke-width="0.18" >0.5</text>
<line x1="424.4" y1="264.85" x2="427.4" y2="264.85" stroke="#111" stroke-width="1"/>
<text transform="translate(421.9,267.65000000000003) scale(0.91,1)" font-size="8.6" text-anchor="end" fill="#333333" font-weight="normal" stroke="#333333" stroke-width="0.18" >1.0</text>
<line x1="424.4" y1="250.77499999999998" x2="427.4" y2="250.77499999999998" stroke="#111" stroke-width="1"/>
<text transform="translate(421.9,253.575) scale(0.91,1)" font-size="8.6" text-anchor="end" fill="#333333" font-weight="normal" stroke="#333333" stroke-width="0.18" >1.5</text>
<line x1="424.4" y1="236.7" x2="427.4" y2="236.7" stroke="#111" stroke-width="1"/>
<text transform="translate(421.9,239.5) scale(0.91,1)" font-size="8.6" text-anchor="end" fill="#333333" font-weight="normal" stroke="#333333" stroke-width="0.18" >2.0</text>
<line x1="448.8" y1="293" x2="448.8" y2="296" stroke="#111" stroke-width="1"/>
<line x1="490.4" y1="293" x2="490.4" y2="296" stroke="#111" stroke-width="1"/>
<text transform="translate(448.8,306.8) scale(0.955,1)" font-size="8.6" text-anchor="middle" fill="#333333" font-weight="normal" stroke="#333333" stroke-width="0.18" >Allo CD4</text>
<text transform="translate(448.8,315.8) scale(0.955,1)" font-size="8.6" text-anchor="middle" fill="#333333" font-weight="normal" stroke="#333333" stroke-width="0.18" >iTreg</text>
<text transform="translate(490.4,306.8) scale(0.955,1)" font-size="8.6" text-anchor="middle" fill="#333333" font-weight="normal" stroke="#333333" stroke-width="0.18" >Allo CD8</text>
<text transform="translate(490.4,315.8) scale(0.955,1)" font-size="8.6" text-anchor="middle" fill="#333333" font-weight="normal" stroke="#333333" stroke-width="0.18" >iTreg</text>
<circle cx="444.6" cy="282" r="1.75" fill="#6e0e2c"/>
<circle cx="452.3" cy="281.2" r="1.75" fill="#6e0e2c"/>
<circle cx="448.8" cy="284.3" r="1.75" fill="#6e0e2c"/>
<circle cx="442.6" cy="289.7" r="1.75" fill="#6e0e2c"/>
<circle cx="446.5" cy="290.5" r="1.75" fill="#6e0e2c"/>
<circle cx="451" cy="289.7" r="1.75" fill="#6e0e2c"/>
<circle cx="454.2" cy="289.7" r="1.75" fill="#6e0e2c"/>
<rect x="488.79999999999995" y="251.0" width="3.2" height="3.2" fill="#1f3658"/>
<rect x="484.9" y="279.4" width="3.2" height="3.2" fill="#1f3658"/>
<rect x="488.9" y="278.4" width="3.2" height="3.2" fill="#1f3658"/>
<rect x="492.9" y="279.4" width="3.2" height="3.2" fill="#1f3658"/>
<rect x="487.4" y="281.9" width="3.2" height="3.2" fill="#1f3658"/>
<rect x="491.4" y="281.9" width="3.2" height="3.2" fill="#1f3658"/>
<line x1="448.8" y1="285.1" x2="448.8" y2="288.6" stroke="#560b24" stroke-width="1.4"/>
<line x1="442.3" y1="285.1" x2="455.3" y2="285.1" stroke="#222" stroke-width="1.2"/>
<line x1="442.3" y1="288.6" x2="455.3" y2="288.6" stroke="#222" stroke-width="1.2"/>
<line x1="435.5" y1="286.9" x2="462.1" y2="286.9" stroke="#111" stroke-width="1.4"/>
<line x1="490.4" y1="271.5" x2="490.4" y2="279.4" stroke="#1c2436" stroke-width="1.4"/>
<line x1="483.9" y1="271.5" x2="496.9" y2="271.5" stroke="#222" stroke-width="1.2"/>
<line x1="483.9" y1="279.4" x2="496.9" y2="279.4" stroke="#222" stroke-width="1.2"/>
<line x1="476.9" y1="275.8" x2="503.9" y2="275.8" stroke="#111" stroke-width="1.4"/>
<text transform="translate(338.4,339.1) scale(0.96,1)" font-size="8.6" text-anchor="middle" fill="#333333" font-weight="normal" stroke="#333333" stroke-width="0.18" >Bak</text>
<text transform="translate(274.4,375.0) rotate(-90) scale(0.86,1)" font-size="8.6" text-anchor="middle" fill="#333333" stroke="#333333" stroke-width="0.18">Relative expression</text>
<line x1="297.4" y1="346.5" x2="297.4" y2="404.2" stroke="#111" stroke-width="1.4"/>
<line x1="296.7" y1="403.5" x2="378.8" y2="403.5" stroke="#111" stroke-width="1.4"/>
<line x1="294.4" y1="403.5" x2="297.4" y2="403.5" stroke="#111" stroke-width="1"/>
<text transform="translate(291.9,406.3) scale(0.91,1)" font-size="8.6" text-anchor="end" fill="#333333" font-weight="normal" stroke="#333333" stroke-width="0.18" >0</text>
<line x1="294.4" y1="385.1666666666667" x2="297.4" y2="385.1666666666667" stroke="#111" stroke-width="1"/>
<text transform="translate(291.9,387.9666666666667) scale(0.91,1)" font-size="8.6" text-anchor="end" fill="#333333" font-weight="normal" stroke="#333333" stroke-width="0.18" >0.5</text>
<line x1="294.4" y1="366.8333333333333" x2="297.4" y2="366.8333333333333" stroke="#111" stroke-width="1"/>
<text transform="translate(291.9,369.6333333333333) scale(0.91,1)" font-size="8.6" text-anchor="end" fill="#333333" font-weight="normal" stroke="#333333" stroke-width="0.18" >1.0</text>
<line x1="294.4" y1="348.5" x2="297.4" y2="348.5" stroke="#111" stroke-width="1"/>
<text transform="translate(291.9,351.3) scale(0.91,1)" font-size="8.6" text-anchor="end" fill="#333333" font-weight="normal" stroke="#333333" stroke-width="0.18" >1.5</text>
<line x1="317.8" y1="403.5" x2="317.8" y2="406.5" stroke="#111" stroke-width="1"/>
<line x1="358.4" y1="403.5" x2="358.4" y2="406.5" stroke="#111" stroke-width="1"/>
<text transform="translate(317.8,417.3) scale(0.955,1)" font-size="8.6" text-anchor="middle" fill="#333333" font-weight="normal" stroke="#333333" stroke-width="0.18" >Allo CD4</text>
<text transform="translate(317.8,426.3) scale(0.955,1)" font-size="8.6" text-anchor="middle" fill="#333333" font-weight="normal" stroke="#333333" stroke-width="0.18" >iTreg</text>
<text transform="translate(358.4,417.3) scale(0.955,1)" font-size="8.6" text-anchor="middle" fill="#333333" font-weight="normal" stroke="#333333" stroke-width="0.18" >Allo CD8</text>
<text transform="translate(358.4,426.3) scale(0.955,1)" font-size="8.6" text-anchor="middle" fill="#333333" font-weight="normal" stroke="#333333" stroke-width="0.18" >iTreg</text>
<circle cx="317.8" cy="352.7" r="1.75" fill="#6e0e2c"/>
<circle cx="317.8" cy="356.8" r="1.75" fill="#6e0e2c"/>
<circle cx="317.8" cy="369" r="1.75" fill="#6e0e2c"/>
<circle cx="317.8" cy="374.6" r="1.75" fill="#6e0e2c"/>
<circle cx="317.8" cy="378.7" r="1.75" fill="#6e0e2c"/>
<circle cx="317.8" cy="384.3" r="1.75" fill="#6e0e2c"/>
<rect x="357.2" y="359.2" width="3.2" height="3.2" fill="#1f3658"/>
<rect x="356.4" y="383.4" width="3.2" height="3.2" fill="#1f3658"/>
<rect x="357.59999999999997" y="385.7" width="3.2" height="3.2" fill="#1f3658"/>
<rect x="356.4" y="389.9" width="3.2" height="3.2" fill="#1f3658"/>
<rect x="354.9" y="392.59999999999997" width="3.2" height="3.2" fill="#1f3658"/>
<line x1="317.8" y1="364.1" x2="317.8" y2="374.4" stroke="#560b24" stroke-width="1.4"/>
<line x1="311.3" y1="364.1" x2="324.3" y2="364.1" stroke="#222" stroke-width="1.2"/>
<line x1="311.3" y1="374.4" x2="324.3" y2="374.4" stroke="#222" stroke-width="1.2"/>
<line x1="304.5" y1="369.3" x2="331.1" y2="369.3" stroke="#111" stroke-width="1.4"/>
<line x1="358.4" y1="379.7" x2="358.4" y2="389.6" stroke="#1c2436" stroke-width="1.4"/>
<line x1="351.9" y1="379.7" x2="364.9" y2="379.7" stroke="#222" stroke-width="1.2"/>
<line x1="351.9" y1="389.6" x2="364.9" y2="389.6" stroke="#222" stroke-width="1.2"/>
<line x1="344.9" y1="384.5" x2="371.9" y2="384.5" stroke="#111" stroke-width="1.4"/>
<line x1="317.8" y1="350.2" x2="359.2" y2="350.2" stroke="#3a3a3a" stroke-width="1.4"/>
<circle cx="338.5" cy="345.7" r="1.05" fill="#222"/>
<text transform="translate(468.5,339.1) scale(0.96,1)" font-size="8.6" text-anchor="middle" fill="#333333" font-weight="normal" stroke="#333333" stroke-width="0.18" >Cleaved Caspase 3</text>
<text transform="translate(405.09999999999997,374.35) rotate(-90) scale(0.86,1)" font-size="8.6" text-anchor="middle" fill="#333333" stroke="#333333" stroke-width="0.18">Relative expression</text>
<line x1="427.4" y1="346.5" x2="427.4" y2="403.7" stroke="#111" stroke-width="1.4"/>
<line x1="426.7" y1="403" x2="509.4" y2="403" stroke="#111" stroke-width="1.4"/>
<line x1="424.4" y1="403.0" x2="427.4" y2="403.0" stroke="#111" stroke-width="1"/>
<text transform="translate(421.9,405.8) scale(0.91,1)" font-size="8.6" text-anchor="end" fill="#333333" font-weight="normal" stroke="#333333" stroke-width="0.18" >0</text>
<line x1="424.4" y1="392.1" x2="427.4" y2="392.1" stroke="#111" stroke-width="1"/>
<text transform="translate(421.9,394.90000000000003) scale(0.91,1)" font-size="8.6" text-anchor="end" fill="#333333" font-weight="normal" stroke="#333333" stroke-width="0.18" >0.2</text>
<line x1="424.4" y1="381.2" x2="427.4" y2="381.2" stroke="#111" stroke-width="1"/>
<text transform="translate(421.9,384.0) scale(0.91,1)" font-size="8.6" text-anchor="end" fill="#333333" font-weight="normal" stroke="#333333" stroke-width="0.18" >0.4</text>
<line x1="424.4" y1="370.3" x2="427.4" y2="370.3" stroke="#111" stroke-width="1"/>
<text transform="translate(421.9,373.1) scale(0.91,1)" font-size="8.6" text-anchor="end" fill="#333333" font-weight="normal" stroke="#333333" stroke-width="0.18" >0.6</text>
<line x1="424.4" y1="359.4" x2="427.4" y2="359.4" stroke="#111" stroke-width="1"/>
<text transform="translate(421.9,362.2) scale(0.91,1)" font-size="8.6" text-anchor="end" fill="#333333" font-weight="normal" stroke="#333333" stroke-width="0.18" >0.8</text>
<line x1="424.4" y1="348.5" x2="427.4" y2="348.5" stroke="#111" stroke-width="1"/>
<text transform="translate(421.9,351.3) scale(0.91,1)" font-size="8.6" text-anchor="end" fill="#333333" font-weight="normal" stroke="#333333" stroke-width="0.18" >1.0</text>
<line x1="447.9" y1="403" x2="447.9" y2="406" stroke="#111" stroke-width="1"/>
<line x1="488.8" y1="403" x2="488.8" y2="406" stroke="#111" stroke-width="1"/>
<text transform="translate(447.9,416.8) scale(0.955,1)" font-size="8.6" text-anchor="middle" fill="#333333" font-weight="normal" stroke="#333333" stroke-width="0.18" >Allo CD4</text>
<text transform="translate(447.9,425.8) scale(0.955,1)" font-size="8.6" text-anchor="middle" fill="#333333" font-weight="normal" stroke="#333333" stroke-width="0.18" >iTreg</text>
<text transform="translate(488.8,416.8) scale(0.955,1)" font-size="8.6" text-anchor="middle" fill="#333333" font-weight="normal" stroke="#333333" stroke-width="0.18" >Allo CD8</text>
<text transform="translate(488.8,425.8) scale(0.955,1)" font-size="8.6" text-anchor="middle" fill="#333333" font-weight="normal" stroke="#333333" stroke-width="0.18" >iTreg</text>
<circle cx="447.7" cy="383.8" r="1.75" fill="#6e0e2c"/>
<circle cx="445.4" cy="400.7" r="1.75" fill="#6e0e2c"/>
<circle cx="448.8" cy="401.2" r="1.75" fill="#6e0e2c"/>
<circle cx="450.5" cy="401.8" r="1.75" fill="#6e0e2c"/>
<circle cx="447.2" cy="403" r="1.75" fill="#6e0e2c"/>
<rect x="487.2" y="350.59999999999997" width="3.2" height="3.2" fill="#1f3658"/>
<rect x="487.2" y="369.59999999999997" width="3.2" height="3.2" fill="#1f3658"/>
<rect x="488.09999999999997" y="370.7" width="3.2" height="3.2" fill="#1f3658"/>
<rect x="489.4" y="392.2" width="3.2" height="3.2" fill="#1f3658"/>
<rect x="484.9" y="394.4" width="3.2" height="3.2" fill="#1f3658"/>
<line x1="447.9" y1="394.2" x2="447.9" y2="401.2" stroke="#560b24" stroke-width="1.4"/>
<line x1="441.4" y1="394.2" x2="454.4" y2="394.2" stroke="#222" stroke-width="1.2"/>
<line x1="441.4" y1="401.2" x2="454.4" y2="401.2" stroke="#222" stroke-width="1.2"/>
<line x1="434.59999999999997" y1="397.7" x2="461.2" y2="397.7" stroke="#111" stroke-width="1.4"/>
<line x1="488.8" y1="368.4" x2="488.8" y2="385.5" stroke="#1c2436" stroke-width="1.4"/>
<line x1="482.3" y1="368.4" x2="495.3" y2="368.4" stroke="#222" stroke-width="1.2"/>
<line x1="482.3" y1="385.5" x2="495.3" y2="385.5" stroke="#222" stroke-width="1.2"/>
<line x1="475.3" y1="377" x2="502.3" y2="377" stroke="#111" stroke-width="1.4"/>
<line x1="447.2" y1="347.4" x2="488.8" y2="347.4" stroke="#3a3a3a" stroke-width="1.4"/>
<circle cx="468.0" cy="342.9" r="1.05" fill="#222"/>
<circle cx="447.7" cy="383.8" r="3.6" fill="none" stroke="#f9e2e8" stroke-width="1.1"/>
<text transform="translate(468.5,448.6) scale(0.96,1)" font-size="8.6" text-anchor="middle" fill="#333333" font-weight="normal" stroke="#333333" stroke-width="0.18" >Bax</text>
<text transform="translate(405.09999999999997,479.6) rotate(-90) scale(0.86,1)" font-size="8.6" text-anchor="middle" fill="#333333" stroke="#333333" stroke-width="0.18">Relative expression</text>
<line x1="427.4" y1="451.5" x2="427.4" y2="509.2" stroke="#111" stroke-width="1.4"/>
<line x1="426.7" y1="508.5" x2="510" y2="508.5" stroke="#111" stroke-width="1.4"/>
<line x1="424.4" y1="508.5" x2="427.4" y2="508.5" stroke="#111" stroke-width="1"/>
<text transform="translate(421.9,511.3) scale(0.91,1)" font-size="8.6" text-anchor="end" fill="#333333" font-weight="normal" stroke="#333333" stroke-width="0.18" >0</text>
<line x1="424.4" y1="497.5" x2="427.4" y2="497.5" stroke="#111" stroke-width="1"/>
<text transform="translate(421.9,500.3) scale(0.91,1)" font-size="8.6" text-anchor="end" fill="#333333" font-weight="normal" stroke="#333333" stroke-width="0.18" >0.5</text>
<line x1="424.4" y1="486.5" x2="427.4" y2="486.5" stroke="#111" stroke-width="1"/>
<text transform="translate(421.9,489.3) scale(0.91,1)" font-size="8.6" text-anchor="end" fill="#333333" font-weight="normal" stroke="#333333" stroke-width="0.18" >1.0</text>
<line x1="424.4" y1="475.5" x2="427.4" y2="475.5" stroke="#111" stroke-width="1"/>
<text transform="translate(421.9,478.3) scale(0.91,1)" font-size="8.6" text-anchor="end" fill="#333333" font-weight="normal" stroke="#333333" stroke-width="0.18" >1.5</text>
<line x1="424.4" y1="464.5" x2="427.4" y2="464.5" stroke="#111" stroke-width="1"/>
<text transform="translate(421.9,467.3) scale(0.91,1)" font-size="8.6" text-anchor="end" fill="#333333" font-weight="normal" stroke="#333333" stroke-width="0.18" >2.0</text>
<line x1="424.4" y1="453.5" x2="427.4" y2="453.5" stroke="#111" stroke-width="1"/>
<text transform="translate(421.9,456.3) scale(0.91,1)" font-size="8.6" text-anchor="end" fill="#333333" font-weight="normal" stroke="#333333" stroke-width="0.18" >2.5</text>
<line x1="447.7" y1="508.5" x2="447.7" y2="511.5" stroke="#111" stroke-width="1"/>
<line x1="488.6" y1="508.5" x2="488.6" y2="511.5" stroke="#111" stroke-width="1"/>
<text transform="translate(447.7,522.3) scale(0.955,1)" font-size="8.6" text-anchor="middle" fill="#333333" font-weight="normal" stroke="#333333" stroke-width="0.18" >Allo CD4</text>
<text transform="translate(447.7,531.3) scale(0.955,1)" font-size="8.6" text-anchor="middle" fill="#333333" font-weight="normal" stroke="#333333" stroke-width="0.18" >iTreg</text>
<text transform="translate(488.6,522.3) scale(0.955,1)" font-size="8.6" text-anchor="middle" fill="#333333" font-weight="normal" stroke="#333333" stroke-width="0.18" >Allo CD8</text>
<text transform="translate(488.6,531.3) scale(0.955,1)" font-size="8.6" text-anchor="middle" fill="#333333" font-weight="normal" stroke="#333333" stroke-width="0.18" >iTreg</text>
<circle cx="447.7" cy="464.2" r="1.75" fill="#6e0e2c"/>
<circle cx="448.8" cy="482" r="1.75" fill="#6e0e2c"/>
<circle cx="446.5" cy="485.4" r="1.75" fill="#6e0e2c"/>
<rect x="487.2" y="476.4" width="3.2" height="3.2" fill="#1f3658"/>
<rect x="487.2" y="488.9" width="3.2" height="3.2" fill="#1f3658"/>
<rect x="488.09999999999997" y="495.79999999999995" width="3.2" height="3.2" fill="#1f3658"/>
<rect x="485.4" y="497.2" width="3.2" height="3.2" fill="#1f3658"/>
<line x1="447.7" y1="473.4" x2="447.7" y2="483.5" stroke="#560b24" stroke-width="1.4"/>
<line x1="441.2" y1="473.4" x2="454.2" y2="473.4" stroke="#222" stroke-width="1.2"/>
<line x1="441.2" y1="483.5" x2="454.2" y2="483.5" stroke="#222" stroke-width="1.2"/>
<line x1="434.4" y1="478.5" x2="461.0" y2="478.5" stroke="#111" stroke-width="1.4"/>
<line x1="488.6" y1="486" x2="488.6" y2="495.8" stroke="#1c2436" stroke-width="1.4"/>
<line x1="482.1" y1="486" x2="495.1" y2="486" stroke="#222" stroke-width="1.2"/>
<line x1="482.1" y1="495.8" x2="495.1" y2="495.8" stroke="#222" stroke-width="1.2"/>
<line x1="475.1" y1="491.2" x2="502.1" y2="491.2" stroke="#111" stroke-width="1.4"/>
<rect x="0.5" y="0.5" width="519" height="539" fill="none" stroke="#000" stroke-width="1.5"/>
</svg></body></html>
